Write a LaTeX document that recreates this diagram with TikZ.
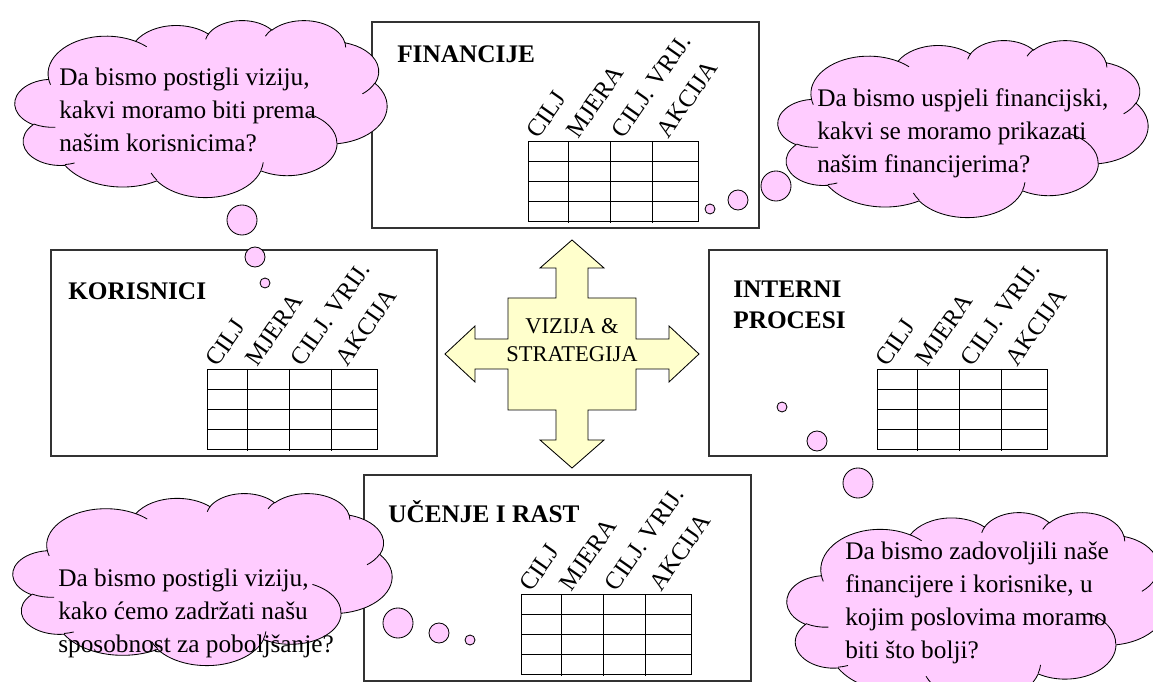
\documentclass[tikz,border=0pt]{standalone}
\usepackage{fontspec}
\setmainfont{Liberation Serif}
\usetikzlibrary{positioning}
\definecolor{bubblepink}{HTML}{FFCCFF}
\definecolor{crossyellow}{HTML}{FFFFCC}

% cloud outline, box of 432 x 432 scaled to w x h at (x,y)
\newcommand{\thoughtcloud}[4]{%
  \begin{scope}[shift={(#1,#2)}, xscale=#3/432, yscale=#4/432]
    \filldraw[bubble] (39,143.7)
      \foreach \cwr/\chr/\cst/\csw in {67.53/91.90/-190.4875/123.7805, 53.33/72.67/-144.1024/89.9452,
          43.65/59.45/-145.8079/99.7230, 48.57/65.95/-130.9861/117.2417, 53.33/72.73/-78.7089/109.0269,
          67.75/92.20/-46.2673/130.2690, 57.85/78.67/0.625/114.0333, 67.52/92.15/22.4516/115.1726,
          77.20/105.43/66.2426/75.7110, 43.60/59.18/-274.9421/146.7356, 43.45/59.45/-246.8285/152.5170}
      { arc[x radius=\cwr, y radius=\chr, start angle={atan2(\cwr*sin(\cst),\chr*cos(\cst))},
            delta angle={mod(atan2(\cwr*sin(\cst+\csw),\chr*cos(\cst+\csw))-atan2(\cwr*sin(\cst),\chr*cos(\cst))+720,360)}] }
      -- cycle;
    \foreach \cpx/\cpy/\cwr/\chr/\cst/\csw in {46.93/261.77/43.45/59.45/86.742/26.4295,
        69.28/348.99/43.60/59.18/73.6105/11.4475, 164.78/390.90/67.52/92.15/137.6242/14.0811,
        288.27/347.51/67.52/92.15/6.4533/15.9984, 341.29/229.54/57.85/78.67/-70.2924/70.9174,
        417.98/153.54/53.33/72.73/30.318/27.7515, 383.24/54.26/48.57/65.95/-13.7443/14.8589,
        290.78/39.52/48.57/65.95/-149.1815/18.1954, 221.41/47.20/43.65/59.45/-163.4943/17.6864,
        140.00/51.92/67.53/91.90/-66.707/12.3194, 41.27/157.89/67.53/91.90/157.6544/11.8582}
      \draw[bubbleline] (\cpx,\cpy) arc[x radius=\cwr, y radius=\chr, start angle={atan2(\cwr*sin(\cst),\chr*cos(\cst))},
            delta angle={mod(atan2(\cwr*sin(\cst+\csw),\chr*cos(\cst+\csw))-atan2(\cwr*sin(\cst),\chr*cos(\cst))+720,360)}];
  \end{scope}}

\begin{document}
\begin{tikzpicture}[x=0.025cm, y=-0.025cm,
    persp/.style={draw=black!80, line width=0.9pt},
    title/.style={font=\fontsize{18}{22}\selectfont\bfseries, inner sep=0pt},
    grid/.style={line width=0.7pt},
    head/.style={rotate=55, anchor=south west, inner sep=0pt, font=\fontsize{17.5}{20}\selectfont},
    bubble/.style={draw, fill=bubblepink, line width=0.6pt},
    bubbleline/.style={line width=0.6pt},
    say/.style={align=left, anchor=west, inner sep=0pt, font=\fontsize{18}{23.5}\selectfont},
    thought/.style={circle, draw, fill=bubblepink, inner sep=0pt, line width=0.6pt},
    big/.style={thought, minimum size=0.75cm},
    mid/.style={thought, minimum size=0.5cm},
    small/.style={thought, minimum size=0.25cm}]
    \clip (0,0) rectangle (1153,682);

    % four perspectives
    \draw[persp] (372,22) rectangle (759,228);
    \draw[persp] (51,250) rectangle (437,456);
    \draw[persp] (709,250) rectangle (1107,456);
    \draw[persp] (364,475) rectangle (751,681);

    \node[title, anchor=base west] (fin) at (397,63) {FINANCIJE};
    \node[title, anchor=base west] (kor) at (68,300) {KORISNICI};
    \node[title, anchor=north west, align=left] (int) at (733,281) {INTERNI\\PROCESI};
    \node[title, anchor=base west] (uce) at (388,523) {UČENJE I RAST};

    % scorecard tables
    \foreach \tx/\ty/\tn in {528/141/fin, 207/369/kor, 877/369/int, 521/594/uce} {
        \draw[grid] (\tx,\ty) rectangle ++(170,80);
        \foreach \r in {20,40,60}
            \draw[grid] (\tx,\ty+\r) -- ++(170,0);
        \foreach \c in {40,82,124}
            \draw[grid] (\tx+\c,\ty) -- ++(0,82);
        \foreach \c/\h [count=\k] in {11/CILJ, 51/MJERA, 96/{CILJ. VRIJ.}, 141/AKCIJA}
            \node[head] (\tn-h\k) at (\tx+\c,\ty-1) {\h};
    }

    % centre
    \draw[fill=crossyellow, line width=0.6pt, shift={(572,354)}]
        (0,-114) -- (32,-86) -- (16,-86) -- (16,-56) -- (64,-56) -- (64,-15) -- (97,-15) -- (97,-28)
        -- (127,0) -- (97,28) -- (97,15) -- (64,15) -- (64,56) -- (16,56) -- (16,86) -- (32,86)
        -- (0,114) -- (-32,86) -- (-16,86) -- (-16,56) -- (-64,56) -- (-64,15) -- (-97,15) -- (-97,28)
        -- (-127,0) -- (-97,-28) -- (-97,-15) -- (-64,-15) -- (-64,-56) -- (-16,-56) -- (-16,-86) -- (-32,-86) -- cycle;
    \node[align=center, inner sep=0pt, font=\fontsize{16}{20}\selectfont] (vs) at (572,340) {VIZIJA \&\\STRATEGIJA};

    % thought clouds
    \thoughtcloud{15}{20}{372}{177}
    \thoughtcloud{778}{40}{370}{177}
    \thoughtcloud{13}{493}{379}{172}
    \thoughtcloud{787}{512}{380}{190}

    \node[say] (t1) at (59,110) {Da bismo postigli viziju,\\kakvi moramo biti prema\\našim korisnicima?};
    \node[say] (t2) at (817,133) {Da bismo uspjeli financijski,\\kakvi se moramo prikazati\\našim financijerima?};
    \node[say] (t3) at (58,613) {Da bismo postigli viziju,\\kako ćemo zadržati našu\\sposobnost za poboljšanje?};
    \node[say] (t4) at (845,603) {Da bismo zadovoljili naše\\financijere i korisnike, u\\kojim poslovima moramo\\biti što bolji?};

    \node[big] (k1) at (242,220) {};
    \node[mid] (k2) at (255,257) {};
    \node[small] (k3) at (265,283) {};

    \node[small] (f1) at (710,209) {};
    \node[mid] (f2) at (738,200) {};
    \node[big] (f3) at (776,186) {};

    \node[small] (i1) at (782,407) {};
    \node[mid] (i2) at (817,441) {};
    \node[big] (i3) at (858,483) {};

    \node[big] (u1) at (398,623) {};
    \node[mid] (u2) at (439,633) {};
    \node[small] (u3) at (470,640) {};
\end{tikzpicture}
\end{document}
